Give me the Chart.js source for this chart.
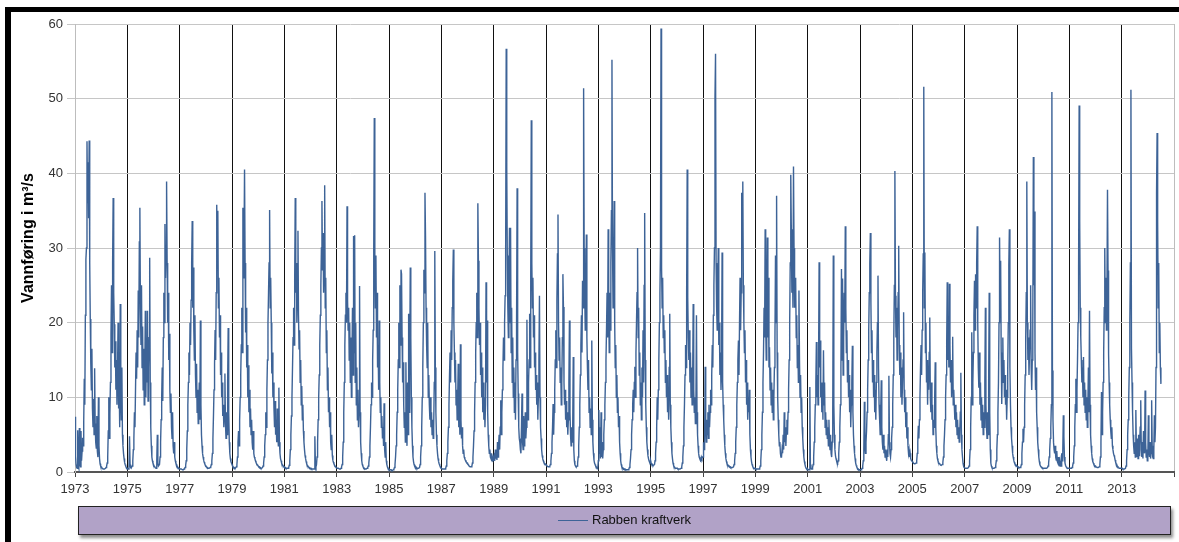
<!DOCTYPE html>
<html lang="no">
<head>
<meta charset="utf-8">
<title>Rabben kraftverk – vannføring</title>
<script src="https://cdn.jsdelivr.net/npm/chart.js@4.4.1/dist/chart.umd.min.js"></script>
<style>
  html, body { margin: 0; padding: 0; background: #fff; }
  #wrap { width: 1179px; height: 542px; position: relative; }
  canvas { display: block; }
</style>
</head>
<body>
<div id="wrap"><canvas id="chart" width="1179" height="542"></canvas></div>
<script>
// Discharge at Rabben kraftverk (m3/s), 48 readings per year (about weekly)
const seriesName = 'Rabben kraftverk';
const yTitle = 'Vannføring i m³/s';
const firstYear = 1973;
const samplesPerYear = 48;
const yTickValues = [0, 10, 20, 30, 40, 50, 60];
const xTickYears = [1973, 1975, 1977, 1979, 1981, 1983, 1985, 1987, 1989, 1991, 1993,
  1995, 1997, 1999, 2001, 2003, 2005, 2007, 2009, 2011, 2013, 2015];

const flow1973 = [7.4, 2.1, 1.0, 0.6, 0.5, 5.6, 0.8, 0.5, 5.9, 1.2, 0.7, 5.5,
  1.5, 2.8, 4.6, 3.5, 6.8, 12.5, 9.0, 21.0, 28.5, 30.0, 44.3, 36.0,
  41.5, 34.0, 44.4, 28.0, 20.5, 14.5, 11.0, 16.5, 8.5, 6.0, 9.8, 5.0,
  13.9, 6.5, 4.0, 3.2, 7.5, 2.8, 2.0, 10.0, 3.5, 1.8, 1.1, 0.8];
const flow1974 = [0.7, 0.6, 0.5, 0.5, 0.4, 0.4, 0.4, 0.4, 0.5, 0.6, 0.8, 1.2,
  2.0, 5.5, 10.0, 4.5, 7.8, 12.0, 18.5, 25.0, 16.0, 28.0, 36.7, 24.0,
  19.8, 14.0, 17.5, 11.0, 15.0, 9.0, 13.5, 20.0, 8.5, 12.0, 6.0, 22.5,
  10.5, 7.0, 14.0, 5.0, 3.5, 2.5, 1.8, 1.3, 1.0, 0.8, 0.6, 0.5];
const flow1975 = [0.5, 0.5, 0.4, 0.6, 4.8, 1.0, 0.6, 0.5, 0.5, 0.8, 1.5, 3.0,
  4.5, 8.0, 6.0, 11.0, 16.0, 12.5, 19.0, 14.0, 24.3, 18.0, 30.8, 35.4,
  22.0, 17.0, 25.0, 14.0, 19.5, 11.0, 16.5, 9.0, 13.0, 21.6, 10.0, 16.6,
  12.0, 21.6, 9.5, 14.0, 18.0, 28.7, 12.0, 6.0, 3.5, 2.0, 1.5, 1.2];
const flow1976 = [1.0, 0.8, 0.7, 0.6, 0.6, 0.5, 1.5, 5.0, 1.2, 0.8, 0.8, 1.0,
  2.0, 4.0, 7.0, 10.0, 14.0, 9.5, 18.0, 24.0, 20.0, 33.2, 26.0, 30.0,
  38.9, 28.0, 20.0, 24.0, 15.0, 18.5, 11.0, 8.0, 10.5, 6.0, 4.5, 8.0,
  3.5, 2.5, 4.0, 2.0, 1.5, 1.2, 1.0, 0.8, 0.7, 0.6, 0.5, 0.5];
const flow1977 = [0.5, 0.4, 0.4, 0.4, 0.4, 0.3, 0.3, 0.3, 0.4, 0.5, 0.6, 0.9,
  1.5, 3.0, 5.5, 9.0, 12.0, 16.0, 13.0, 20.0, 17.0, 23.0, 28.0, 33.6,
  22.0, 27.4, 19.0, 15.0, 21.0, 13.0, 10.0, 14.5, 8.0, 11.0, 6.5, 9.0,
  12.0, 7.0, 20.3, 9.0, 5.0, 3.5, 2.5, 2.0, 1.6, 1.3, 1.1, 0.9];
const flow1978 = [0.8, 0.7, 0.6, 0.6, 0.5, 0.5, 0.5, 0.5, 0.6, 0.7, 1.0, 1.5,
  2.5, 4.5, 7.5, 11.0, 14.5, 19.0, 15.0, 24.0, 35.8, 28.0, 35.0, 22.0,
  26.0, 18.0, 21.0, 13.0, 16.0, 10.0, 12.0, 7.5, 9.0, 6.0, 8.0, 13.2,
  6.5, 4.5, 8.0, 5.0, 12.0, 19.3, 8.0, 4.0, 2.5, 1.8, 1.4, 1.2];
const flow1979 = [1.0, 0.8, 0.7, 0.6, 0.6, 0.5, 0.5, 0.5, 0.7, 1.0, 2.0, 4.0,
  5.5, 3.5, 7.0, 10.0, 13.0, 17.0, 22.0, 16.0, 35.4, 26.0, 30.0, 40.5,
  28.0, 18.7, 22.0, 14.0, 17.0, 10.0, 14.3, 8.0, 11.0, 6.0, 8.5, 5.0,
  7.0, 4.0, 3.0, 5.5, 2.5, 2.0, 1.8, 1.5, 1.3, 1.1, 1.0, 0.9];
const flow1980 = [0.8, 0.7, 0.7, 0.6, 0.6, 0.5, 0.5, 0.5, 0.6, 0.8, 1.2, 2.0,
  3.5, 5.0, 8.0, 6.0, 11.0, 15.0, 20.0, 24.0, 28.0, 35.1, 22.0, 26.0,
  20.0, 13.2, 16.0, 10.0, 12.0, 8.5, 6.0, 9.5, 5.0, 7.0, 4.0, 8.5,
  5.0, 3.5, 11.3, 4.0, 2.5, 1.8, 1.5, 1.2, 1.0, 0.9, 0.8, 0.7];
const flow1981 = [0.7, 0.6, 0.6, 0.5, 0.5, 0.5, 0.5, 0.5, 0.6, 0.9, 1.5, 3.0,
  5.0, 7.5, 10.0, 14.0, 18.0, 22.0, 17.0, 26.0, 36.7, 24.0, 28.0, 20.0,
  25.0, 32.3, 21.0, 16.5, 19.0, 12.0, 15.0, 9.0, 11.5, 7.0, 9.0, 5.5,
  4.0, 3.0, 2.2, 1.8, 1.4, 1.1, 0.9, 0.8, 0.7, 0.6, 0.6, 0.5];
const flow1982 = [0.5, 0.5, 0.4, 0.4, 0.4, 0.4, 0.4, 0.4, 4.8, 1.0, 0.7, 1.0,
  2.0, 4.0, 7.0, 10.0, 13.0, 17.0, 21.0, 25.0, 30.0, 36.3, 27.0, 32.0,
  24.0, 28.0, 38.4, 22.0, 26.0, 16.0, 19.0, 11.0, 14.0, 8.0, 10.0, 6.0,
  8.0, 4.0, 3.0, 5.0, 2.2, 1.6, 1.3, 1.1, 0.9, 0.8, 0.7, 0.6];
const flow1983 = [0.6, 0.5, 0.5, 0.5, 0.5, 0.4, 0.4, 0.4, 0.5, 0.7, 1.0, 2.0,
  4.0, 8.0, 12.0, 17.0, 21.0, 24.0, 20.0, 35.6, 23.0, 19.0, 22.0, 15.0,
  20.0, 12.0, 18.0, 10.0, 15.0, 22.0, 13.0, 31.6, 16.0, 31.7, 12.0, 20.0,
  9.0, 14.0, 7.0, 11.0, 6.0, 9.0, 24.9, 8.0, 4.0, 2.5, 1.5, 1.0];
const flow1984 = [0.8, 0.6, 0.5, 0.5, 0.4, 0.4, 0.4, 0.4, 0.5, 0.6, 0.8, 1.2,
  2.0, 3.5, 6.0, 9.0, 12.0, 10.0, 15.0, 19.0, 29.6, 47.4, 28.0, 22.0,
  29.0, 18.0, 24.0, 14.0, 17.0, 11.0, 20.3, 12.0, 8.0, 10.0, 6.0, 7.5,
  4.5, 6.0, 3.5, 9.2, 3.0, 2.0, 4.0, 1.5, 1.0, 0.7, 0.5, 0.4];
const flow1985 = [0.4, 0.3, 0.3, 0.3, 0.3, 0.2, 0.2, 0.2, 0.3, 0.4, 0.6, 1.0,
  2.0, 3.5, 5.0, 8.0, 11.0, 15.0, 20.0, 14.0, 25.0, 17.0, 27.1, 26.5,
  18.0, 12.0, 14.7, 9.0, 6.0, 8.0, 4.0, 14.7, 6.0, 3.5, 12.0, 5.0,
  21.2, 8.0, 14.0, 27.4, 18.0, 10.0, 6.0, 3.5, 2.0, 1.4, 1.0, 0.8];
const flow1986 = [0.8, 0.6, 0.6, 0.5, 0.5, 0.5, 0.5, 0.5, 0.6, 1.0, 2.0, 3.5,
  6.0, 10.0, 14.0, 20.0, 27.1, 24.0, 37.4, 31.4, 22.0, 17.0, 14.0, 20.0,
  10.0, 13.0, 9.0, 7.0, 10.0, 6.0, 8.0, 5.0, 7.0, 4.5, 6.0, 12.0,
  29.6, 14.0, 8.0, 5.0, 3.5, 2.5, 1.8, 1.4, 1.1, 0.9, 0.7, 0.6];
const flow1987 = [0.5, 0.5, 0.4, 0.4, 0.4, 0.4, 0.4, 0.4, 0.5, 0.8, 1.5, 2.5,
  4.0, 6.0, 9.0, 13.0, 16.0, 12.0, 19.0, 15.0, 22.0, 25.6, 29.8, 20.0,
  16.0, 12.0, 15.0, 9.0, 11.0, 7.0, 10.0, 14.5, 6.0, 9.0, 5.0, 17.1,
  7.0, 4.5, 6.0, 3.5, 2.5, 3.0, 2.0, 1.8, 1.6, 1.5, 1.3, 1.2];
const flow1988 = [1.2, 1.0, 0.9, 0.8, 0.8, 0.7, 0.7, 0.7, 0.8, 1.2, 2.0, 3.5,
  5.5, 8.0, 12.0, 16.0, 20.0, 24.0, 18.0, 36.0, 28.3, 22.0, 17.0, 20.0,
  13.0, 16.0, 10.0, 14.0, 8.0, 12.0, 7.0, 10.0, 6.0, 9.0, 25.4, 12.0,
  20.3, 8.0, 5.0, 3.5, 2.5, 3.0, 2.0, 1.8, 2.5, 1.6, 1.5, 2.0];
const flow1989 = [1.5, 2.0, 1.5, 3.0, 1.8, 2.5, 1.6, 4.0, 2.0, 3.5, 5.0, 3.0,
  6.0, 9.6, 5.0, 8.0, 11.0, 14.0, 18.0, 15.0, 20.0, 23.6, 30.0, 56.7,
  40.7, 29.0, 22.0, 18.0, 25.0, 32.7, 20.0, 32.7, 16.0, 22.0, 12.0, 18.0,
  10.0, 14.0, 8.0, 12.0, 7.0, 15.0, 20.0, 38.0, 16.0, 10.5, 6.0, 4.5];
const flow1990 = [4.0, 3.0, 2.5, 6.0, 10.5, 4.0, 3.0, 7.5, 3.5, 5.0, 8.0, 4.5,
  6.0, 20.4, 9.0, 7.0, 12.0, 15.0, 21.2, 14.0, 26.0, 47.1, 28.0, 22.0,
  26.0, 18.0, 21.0, 14.0, 16.0, 11.0, 13.0, 9.0, 12.0, 7.0, 10.0, 15.0,
  23.6, 10.0, 6.0, 4.5, 3.0, 2.2, 1.8, 1.5, 1.3, 1.2, 1.1, 1.0];
const flow1991 = [1.0, 0.9, 0.8, 0.8, 0.7, 0.7, 0.7, 0.8, 1.0, 1.5, 2.5, 4.0,
  6.0, 9.1, 5.0, 8.0, 11.0, 15.0, 19.0, 14.0, 23.0, 29.2, 34.5, 20.0,
  15.0, 18.0, 12.0, 14.0, 9.0, 12.0, 18.0, 26.5, 22.1, 12.0, 9.0, 11.0,
  7.0, 9.5, 6.0, 8.0, 5.0, 7.0, 12.0, 20.3, 8.0, 5.0, 3.5, 6.0];
const flow1992 = [4.0, 6.0, 15.4, 3.0, 1.5, 1.0, 0.8, 0.7, 0.7, 0.8, 1.2, 2.0,
  3.5, 6.0, 9.0, 13.0, 17.0, 21.0, 16.0, 25.6, 22.0, 51.4, 30.0, 24.0,
  19.0, 22.0, 31.8, 18.0, 14.0, 11.0, 15.0, 8.0, 10.0, 6.0, 8.5, 5.0,
  17.6, 7.0, 4.0, 2.5, 1.6, 1.2, 1.0, 0.8, 0.7, 0.6, 0.6, 0.5];
const flow1993 = [1.5, 8.3, 2.5, 6.0, 1.8, 8.0, 2.0, 4.0, 1.8, 3.0, 5.0, 7.0,
  9.0, 12.0, 15.0, 19.0, 24.0, 18.0, 32.5, 22.0, 16.0, 24.0, 19.0, 28.0,
  35.0, 55.2, 30.0, 22.0, 26.0, 36.3, 20.0, 14.0, 17.0, 10.0, 13.0, 8.0,
  10.0, 6.0, 7.5, 4.0, 2.5, 1.5, 1.0, 0.7, 0.6, 0.5, 0.5, 0.4];
const flow1994 = [0.4, 0.4, 0.3, 0.3, 0.3, 0.3, 0.3, 0.3, 0.4, 0.6, 1.0, 1.8,
  3.0, 5.0, 7.0, 9.0, 11.0, 8.0, 12.0, 14.1, 10.0, 16.0, 20.0, 24.0,
  30.0, 18.0, 22.0, 13.0, 16.0, 9.0, 12.0, 7.0, 14.0, 10.0, 19.0, 12.0,
  25.0, 34.7, 15.0, 9.0, 6.0, 4.0, 3.0, 2.2, 1.8, 1.5, 1.3, 1.2];
const flow1995 = [1.5, 1.2, 1.0, 1.0, 0.9, 0.9, 0.9, 1.0, 1.5, 2.5, 4.0, 6.0,
  10.0, 7.0, 11.0, 15.0, 20.0, 24.0, 30.0, 59.4, 27.4, 22.0, 26.0, 18.0,
  21.0, 16.0, 19.0, 12.0, 15.0, 10.0, 13.0, 8.0, 11.0, 7.0, 14.0, 21.2,
  9.0, 6.0, 4.0, 2.5, 1.8, 1.2, 0.9, 0.7, 0.6, 0.5, 0.5, 0.5];
const flow1996 = [0.5, 0.5, 0.4, 0.4, 0.4, 0.4, 0.4, 0.4, 0.5, 0.7, 1.2, 2.0,
  3.5, 6.0, 9.0, 13.0, 17.0, 14.0, 24.0, 40.5, 23.4, 18.0, 15.0, 19.0,
  12.0, 16.0, 10.0, 14.0, 9.0, 12.0, 22.5, 11.0, 8.0, 10.0, 6.5, 9.0,
  21.0, 8.0, 5.0, 3.5, 2.5, 2.0, 1.8, 1.6, 1.5, 2.0, 1.8, 2.0];
const flow1997 = [2.0, 4.0, 3.0, 5.0, 14.1, 6.0, 4.0, 7.0, 5.0, 8.0, 4.5, 9.0,
  6.0, 8.0, 11.0, 9.0, 13.0, 17.0, 14.0, 21.0, 25.0, 30.0, 50.3, 56.0,
  28.0, 22.0, 19.0, 24.0, 30.0, 17.0, 20.0, 13.0, 16.0, 11.0, 14.0, 29.4,
  12.0, 9.0, 7.0, 5.0, 3.5, 2.5, 1.8, 1.4, 1.1, 1.0, 0.9, 0.8];
const flow1998 = [0.8, 0.7, 0.7, 0.6, 0.6, 0.6, 0.6, 0.6, 0.7, 1.0, 1.5, 2.5,
  4.0, 6.0, 9.0, 12.0, 15.0, 17.6, 13.0, 20.0, 26.0, 19.0, 24.0, 37.4,
  30.0, 38.9, 25.0, 20.0, 16.0, 19.0, 12.0, 15.0, 9.0, 12.0, 7.0, 10.0,
  8.0, 11.0, 5.0, 3.0, 2.0, 1.4, 1.0, 0.8, 0.6, 0.5, 0.5, 0.5];
const flow1999 = [0.5, 0.4, 0.4, 0.4, 0.4, 0.4, 0.4, 0.4, 0.5, 0.8, 1.5, 3.0,
  5.0, 8.0, 12.0, 16.0, 22.0, 18.0, 32.5, 20.0, 15.0, 24.0, 31.4, 18.0,
  26.0, 14.0, 16.7, 11.0, 14.0, 9.0, 12.0, 8.0, 11.0, 7.0, 10.0, 14.0,
  18.0, 29.0, 20.0, 37.0, 16.0, 10.0, 7.0, 5.0, 3.5, 4.0, 2.5, 2.0];
const flow2000 = [2.0, 3.0, 2.5, 5.0, 3.0, 8.0, 4.0, 6.0, 3.5, 5.5, 7.0, 5.0,
  8.0, 11.0, 15.0, 20.0, 28.0, 39.8, 32.5, 24.0, 28.0, 22.0, 40.9, 30.0,
  22.0, 26.0, 25.6, 18.0, 21.0, 14.0, 17.0, 12.0, 24.3, 15.0, 10.0, 13.0,
  8.0, 10.0, 6.0, 4.5, 3.0, 2.0, 1.4, 1.0, 0.7, 0.5, 0.4, 0.3];
const flow2001 = [0.4, 0.3, 0.3, 0.3, 11.4, 1.0, 0.5, 0.4, 0.4, 0.6, 1.0, 2.0,
  4.0, 6.0, 9.0, 12.0, 17.4, 10.0, 13.0, 9.0, 15.0, 28.1, 14.0, 17.6,
  10.0, 12.0, 8.0, 11.0, 7.0, 16.3, 9.0, 12.0, 6.0, 8.0, 5.0, 7.0,
  4.5, 6.0, 3.5, 7.0, 4.0, 3.0, 5.0, 2.5, 2.0, 4.0, 8.0, 29.0];
const flow2002 = [9.0, 5.0, 3.0, 2.2, 1.8, 1.5, 1.3, 1.2, 1.5, 2.5, 4.0, 6.0,
  9.0, 14.0, 27.2, 15.0, 25.9, 13.0, 18.0, 24.0, 20.0, 32.9, 22.0, 16.0,
  19.0, 12.0, 15.0, 10.0, 13.0, 8.0, 11.0, 6.0, 9.0, 12.0, 16.9, 8.0,
  5.0, 3.5, 2.5, 1.8, 1.2, 0.9, 0.7, 0.5, 0.4, 0.4, 0.3, 0.3];
const flow2003 = [0.3, 0.3, 0.3, 0.4, 0.5, 0.8, 1.5, 3.0, 9.4, 3.5, 2.5, 4.0,
  5.5, 8.0, 11.0, 15.0, 19.0, 24.0, 28.0, 32.0, 22.7, 16.0, 19.0, 12.0,
  15.0, 10.0, 13.0, 8.0, 11.0, 7.0, 12.0, 16.0, 20.0, 26.3, 14.0, 9.0,
  7.0, 5.0, 8.0, 12.3, 6.0, 4.0, 3.0, 5.0, 2.5, 3.5, 2.0, 3.0];
const flow2004 = [2.0, 1.5, 3.0, 2.0, 5.0, 12.9, 4.0, 2.5, 2.0, 3.0, 4.5, 6.0,
  9.0, 13.0, 18.0, 25.0, 40.3, 23.6, 18.0, 22.0, 15.0, 19.0, 24.0, 30.3,
  17.0, 13.0, 16.0, 10.0, 14.0, 9.0, 12.0, 15.0, 21.4, 11.0, 8.0, 10.0,
  6.0, 8.0, 4.5, 6.0, 3.5, 2.5, 3.0, 2.0, 2.5, 1.8, 1.6, 1.5];
const flow2005 = [1.4, 1.3, 1.2, 1.2, 1.1, 1.1, 1.1, 1.2, 1.5, 2.5, 4.0, 6.2,
  4.5, 7.0, 10.0, 14.0, 17.0, 13.0, 19.0, 24.0, 29.2, 51.6, 22.0, 29.4,
  16.0, 20.0, 12.0, 15.0, 9.0, 14.0, 11.0, 16.0, 20.7, 10.0, 8.0, 12.0,
  7.0, 9.0, 5.0, 7.0, 6.0, 10.0, 14.7, 6.0, 3.5, 2.5, 1.8, 1.5];
const flow2006 = [1.3, 1.2, 1.1, 1.0, 1.0, 0.9, 0.9, 1.0, 1.3, 2.0, 3.5, 5.0,
  7.0, 10.0, 13.0, 17.0, 25.4, 15.0, 19.0, 14.0, 25.2, 17.0, 12.0, 15.0,
  10.0, 13.0, 18.1, 9.0, 11.0, 8.9, 7.0, 9.0, 6.0, 8.0, 5.0, 7.0,
  4.5, 6.0, 4.0, 5.0, 8.0, 13.3, 5.0, 3.0, 2.0, 1.2, 0.8, 0.6];
const flow2007 = [0.6, 0.5, 0.5, 0.5, 0.5, 0.5, 0.5, 0.6, 0.8, 1.5, 3.0, 6.0,
  10.0, 18.7, 9.0, 12.0, 16.0, 21.0, 25.6, 19.0, 26.5, 22.0, 28.0, 32.9,
  20.0, 14.0, 11.3, 16.0, 9.0, 12.0, 7.0, 10.0, 6.0, 9.0, 5.0, 8.0,
  6.0, 12.0, 22.0, 9.0, 6.0, 4.5, 8.0, 5.0, 12.0, 24.0, 8.0, 3.0];
const flow2008 = [1.2, 0.8, 0.6, 0.5, 0.5, 0.5, 0.5, 0.5, 0.6, 0.9, 1.5, 3.0,
  5.0, 8.0, 12.0, 20.0, 31.4, 22.0, 28.3, 16.0, 9.1, 14.0, 18.0, 12.0,
  15.0, 10.0, 13.0, 9.0, 11.0, 7.0, 10.0, 14.0, 20.0, 27.8, 32.5, 14.0,
  9.0, 6.0, 4.5, 3.5, 2.5, 2.0, 1.6, 1.3, 1.1, 1.0, 0.9, 0.9];
const flow2009 = [0.8, 0.7, 0.7, 0.6, 0.6, 0.6, 0.6, 0.7, 1.0, 2.5, 4.0, 5.8,
  4.0, 6.0, 9.0, 13.0, 18.0, 24.0, 38.9, 20.0, 15.0, 18.0, 13.0, 16.0,
  19.0, 25.0, 14.0, 11.0, 15.0, 20.0, 42.2, 25.0, 34.9, 16.0, 11.0, 14.0,
  8.0, 6.0, 4.0, 3.0, 2.0, 1.4, 1.0, 0.8, 0.7, 0.6, 0.6, 0.5];
const flow2010 = [0.5, 0.5, 0.5, 0.5, 0.5, 0.5, 0.5, 0.5, 0.6, 0.8, 1.2, 2.0,
  3.0, 4.5, 6.0, 9.0, 50.9, 13.6, 7.0, 4.0, 3.0, 2.5, 3.5, 2.0,
  1.6, 2.8, 1.4, 1.2, 2.0, 1.0, 0.9, 1.5, 0.8, 0.8, 2.5, 1.5,
  3.0, 7.6, 4.8, 2.0, 1.2, 0.9, 0.7, 0.6, 0.5, 0.5, 0.5, 0.5];
const flow2011 = [0.5, 0.5, 0.5, 0.5, 0.5, 0.6, 0.8, 1.2, 2.0, 3.5, 6.0, 9.0,
  12.5, 8.0, 11.0, 15.0, 20.0, 27.4, 49.1, 33.6, 22.0, 18.0, 15.0, 12.0,
  14.0, 10.0, 15.4, 9.0, 12.0, 8.0, 11.0, 7.0, 10.0, 6.0, 9.0, 14.0,
  8.0, 21.6, 9.0, 5.0, 3.5, 2.5, 1.8, 1.4, 1.2, 1.0, 0.9, 0.8];
const flow2012 = [0.8, 0.7, 0.7, 0.6, 0.6, 0.6, 0.6, 0.7, 1.0, 2.0, 4.0, 10.7,
  5.0, 8.0, 12.0, 16.0, 22.0, 30.0, 20.0, 26.0, 19.0, 24.0, 37.8, 27.0,
  15.8, 12.0, 9.0, 7.0, 5.5, 4.5, 6.0, 3.5, 3.0, 2.5, 2.2, 2.0,
  1.6, 1.3, 1.1, 0.9, 0.8, 0.7, 0.6, 0.6, 0.5, 0.5, 0.5, 0.5];
const flow2013 = [0.5, 0.5, 0.4, 0.4, 0.4, 0.4, 0.4, 0.5, 0.8, 1.5, 3.0, 5.0,
  7.0, 10.0, 14.0, 20.0, 28.0, 51.2, 16.5, 12.0, 8.0, 5.0, 3.5, 2.5,
  4.0, 2.0, 8.3, 3.0, 2.0, 4.5, 1.8, 5.0, 2.2, 3.5, 6.0, 9.6,
  3.0, 2.0, 4.0, 1.8, 5.5, 3.0, 2.5, 10.9, 4.0, 2.0, 3.0, 1.5];
const flow2014 = [2.0, 7.6, 3.0, 2.0, 4.0, 1.8, 2.5, 9.6, 3.5, 2.0, 1.8, 3.0,
  7.6, 4.0, 6.0, 14.0, 37.4, 45.4, 33.6, 22.0, 28.0, 16.0, 20.0, 14.0, 11.8];

const flowByYear = [flow1973, flow1974, flow1975, flow1976, flow1977, flow1978,
  flow1979, flow1980, flow1981, flow1982, flow1983, flow1984, flow1985, flow1986,
  flow1987, flow1988, flow1989, flow1990, flow1991, flow1992, flow1993, flow1994,
  flow1995, flow1996, flow1997, flow1998, flow1999, flow2000, flow2001, flow2002,
  flow2003, flow2004, flow2005, flow2006, flow2007, flow2008, flow2009, flow2010,
  flow2011, flow2012, flow2013, flow2014];

// Decimal-year time axis: one point per reading
const points = [];
flowByYear.forEach((vals, k) => {
  vals.forEach((v, i) => points.push({ x: firstYear + k + i / samplesPerYear, y: v }));
});

const FONT = '"Liberation Sans", Arial, Helvetica, sans-serif';
const lineColor = '#3d6397';

// Outer frame, rotated axis title and the boxed legend underneath the plot
const decor = {
  id: 'decor',
  afterDraw(chart) {
    const c = chart.ctx;
    const area = chart.chartArea;
    c.save();
    c.fillStyle = '#000';
    c.fillRect(5, 7, chart.width - 5, 5);
    c.fillRect(5, 7, 6, chart.height - 7);

    c.save();
    c.translate(29, 238);
    c.rotate(-Math.PI / 2);
    c.font = 'bold 16px ' + FONT;
    c.fillStyle = '#000';
    c.textAlign = 'center';
    c.textBaseline = 'middle';
    c.fillText(yTitle, 0, 0);
    c.restore();

    const bx = area.left + 3, by = 506, bw = area.right - area.left - 6, bh = 29;
    c.save();
    c.shadowColor = 'rgba(0,0,0,0.45)';
    c.shadowBlur = 3;
    c.shadowOffsetX = 2;
    c.shadowOffsetY = 3;
    c.fillStyle = '#b1a2c7';
    c.fillRect(bx, by, bw, bh);
    c.restore();
    c.strokeStyle = '#222';
    c.lineWidth = 1;
    c.strokeRect(bx + 0.5, by + 0.5, bw - 1, bh - 1);

    const ds = chart.data.datasets[0];
    c.font = '13px ' + FONT;
    const tw = c.measureText(ds.label).width;
    const total = 30 + 4 + tw;
    const sx = Math.round(bx + bw / 2 - total / 2);
    const cy = by + bh / 2;
    c.strokeStyle = ds.borderColor;
    c.lineWidth = 1;
    c.beginPath();
    c.moveTo(sx, cy);
    c.lineTo(sx + 30, cy);
    c.stroke();
    c.fillStyle = '#111';
    c.textAlign = 'left';
    c.textBaseline = 'middle';
    c.fillText(ds.label, sx + 34, cy);
    c.restore();
  }
};

new Chart(document.getElementById('chart'), {
  type: 'line',
  data: {
    datasets: [{
      label: seriesName,
      data: points,
      borderColor: lineColor,
      borderWidth: 1.4,
      pointRadius: 0,
      tension: 0,
      fill: false
    }]
  },
  options: {
    responsive: false,
    animation: false,
    devicePixelRatio: 1,
    parsing: false,
    normalized: true,
    layout: { padding: { left: 0, top: 24, right: 4, bottom: 0 } },
    plugins: { legend: { display: false }, tooltip: { enabled: false }, title: { display: false } },
    scales: {
      x: {
        type: 'linear',
        min: firstYear,
        max: 2015,
        afterBuildTicks: s => { s.ticks = xTickYears.map(v => ({ value: v })); },
        afterFit: s => { s.height = 70; },
        grid: {
          color: ctx => (ctx.tick && (ctx.tick.value === 1973 || ctx.tick.value === 2015)) ? '#bdbdbd' : '#111',
          lineWidth: 1,
          tickLength: 5,
          tickColor: '#444'
        },
        border: { color: '#555', width: 2 },
        ticks: {
          autoSkip: false,
          maxRotation: 0,
          padding: 5,
          color: '#333',
          font: { family: FONT, size: 13 },
          callback: v => (v === 2015 ? '' : String(v))
        }
      },
      y: {
        min: 0,
        max: 60,
        afterBuildTicks: s => { s.ticks = yTickValues.map(v => ({ value: v })); },
        afterFit: s => { s.width = 75; },
        grid: { color: '#c6c6c6', lineWidth: 1, tickLength: 8, tickColor: '#c6c6c6' },
        border: { color: '#bdbdbd', width: 1 },
        ticks: {
          padding: 4,
          color: '#333',
          font: { family: FONT, size: 13 },
          callback: v => String(v)
        }
      }
    }
  },
  plugins: [decor]
});
</script>
</body>
</html>
